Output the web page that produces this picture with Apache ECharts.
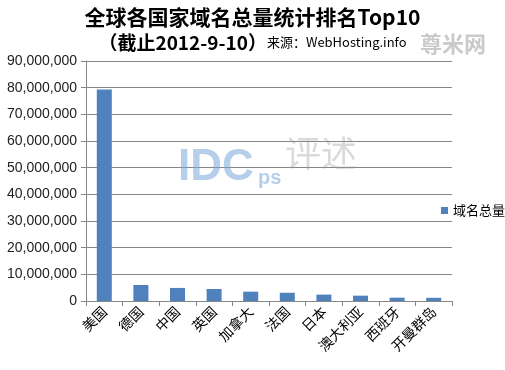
<!DOCTYPE html>
<html><head><meta charset="utf-8">
<script src="https://cdn.jsdelivr.net/npm/echarts@6/dist/echarts.min.js"></script>
<style>html,body{margin:0;padding:0;background:#fff}#c{width:505px;height:370px}</style>
</head><body><div id="c"></div>
<script>
var categories = ['美国','德国','中国','英国','加拿大','法国','日本','澳大利亚','西班牙','开曼群岛'];
var values = [79300000, 6000000, 4900000, 4500000, 3500000, 3100000, 2400000, 2000000, 1250000, 1200000];
var seriesName = '域名总量';
var yTicks = {min: 0, max: 90000000, interval: 10000000};

var chart = echarts.init(document.getElementById('c'));
chart.setOption({
  animation: false,
  backgroundColor: '#fff',
  title: {
    text: '全球各国家域名总量统计排名Top10',
    subtext: '{a|（截止2012-9-10）}{b|来源：WebHosting.info}',
    left: 'center', top: 2, itemGap: 5,
    textStyle: {fontFamily: '"Noto Sans CJK SC", "Liberation Sans"', fontSize: 21, fontWeight: 'bold', color: '#000'},
    subtextStyle: {
      rich: {
        a: {fontFamily: '"Noto Sans CJK SC", "Liberation Sans"', fontSize: 19, fontWeight: 'bold', color: '#000'},
        b: {fontFamily: '"Noto Sans CJK SC", "Liberation Sans"', fontSize: 13, color: '#000'}
      }
    }
  },
  legend: {
    data: [seriesName], left: 436, top: 199, icon: 'rect', itemWidth: 7, itemHeight: 7, itemGap: 4,
    textStyle: {fontFamily: '"Noto Sans CJK SC"', fontSize: 13, color: '#000'}
  },
  grid: {left: 86, right: 53, top: 61, bottom: 69, containLabel: false},
  xAxis: {
    type: 'category', data: categories,
    axisLine: {lineStyle: {color: '#868686', width: 1}},
    axisTick: {show: true, alignWithLabel: false, length: 5, lineStyle: {color: '#868686'}},
    axisLabel: {rotate: 45, interval: 0, margin: 8, fontFamily: '"Noto Sans CJK SC"', fontSize: 14, color: '#000'}
  },
  yAxis: {
    type: 'value', min: yTicks.min, max: yTicks.max, interval: yTicks.interval,
    axisLine: {show: true, lineStyle: {color: '#868686'}},
    axisTick: {show: true, length: 5, lineStyle: {color: '#868686'}},
    splitLine: {lineStyle: {color: '#868686', width: 1}},
    axisLabel: {margin: 9, fontFamily: '"Liberation Sans", Arial', fontSize: 14, color: '#222',
      formatter: function (v) { return v.toString().replace(/\B(?=(\d{3})+(?!\d))/g, ','); }}
  },
  series: [{
    name: seriesName, type: 'bar', data: values, barWidth: '41%',
    itemStyle: {color: '#4F81BD'}
  }],
  graphic: [
    {type: 'text', left: 178, top: 146, z: 10, silent: true,
     style: {text: 'IDC', font: 'bold 44px "Liberation Sans", Arial', fill: 'rgba(120,165,215,0.55)'}},
    {type: 'text', left: 258, top: 168, z: 10, silent: true,
     style: {text: 'ps', font: 'bold 20px "Liberation Sans", Arial', fill: 'rgba(120,165,215,0.55)'}},
    {type: 'text', left: 285, top: 135, z: 10, silent: true,
     style: {text: '评述', font: '36px "Noto Sans CJK SC"', fill: 'rgba(150,150,150,0.35)'}},
    {type: 'text', left: 420, top: 33, z: 10, silent: true,
     style: {text: '尊米网', font: 'bold 22px "Noto Sans CJK SC"', fill: 'rgba(150,150,150,0.5)'}}
  ]
});
</script></body></html>
